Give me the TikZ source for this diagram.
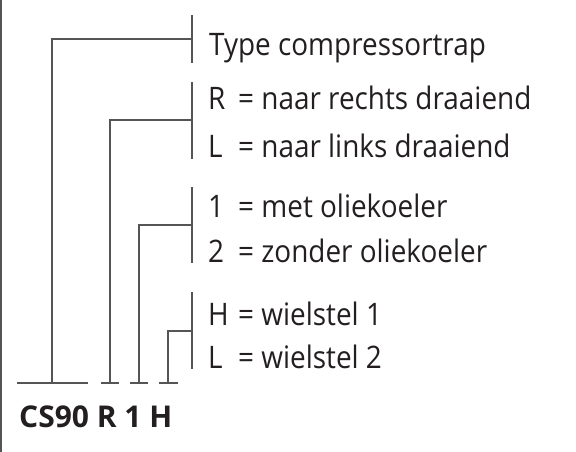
\documentclass[tikz,border=0pt]{standalone}
\usepackage{fontspec}
\setmainfont{Open Sans}[FakeStretch=0.9]
\newfontfamily\codefont{Open Sans}[BoldFont={Open Sans Bold}]
\definecolor{linegray}{HTML}{555555}
\definecolor{textdark}{HTML}{231F20}
\begin{document}
\begin{tikzpicture}[x=1pt,y=-1pt,
  conn/.style={draw=linegray,line width=1.3pt},
  lbl/.style={anchor=base west,inner sep=0pt,text=textdark,font=\fontsize{31}{36}\selectfont},
  code/.style={anchor=base west,inner sep=0pt,text=textdark,font=\codefont\fontsize{30}{36}\selectfont\bfseries}]
\useasboundingbox (0,0) rectangle (576,452);
\fill[white] (0,0) rectangle (576,452);
\newcommand{\keybox}[1]{\makebox[30pt][l]{#1}}
% frame line
\draw[linegray,line width=2pt] (1,0) -- (1,452);
% labels
\node[lbl] (t1) at (209,56) {Type compressortrap};
\node[lbl] (r) at (208,110) {\keybox{R}= naar rechts draaiend};
\node[lbl] (l) at (208,157) {\keybox{L}= naar links draaiend};
\node[lbl] (o1) at (208,217) {\keybox{1}= met oliekoeler};
\node[lbl] (o2) at (208,262) {\keybox{2}= zonder oliekoeler};
\node[lbl] (h) at (208,325) {\keybox{H}= wielstel 1};
\node[lbl] (w2) at (208,368) {\keybox{L}= wielstel 2};
\node[code] (cs) at (19,427) {CS90 R 1 H};
% bracket coordinates
\coordinate (a1) at (192,15); \coordinate (a2) at (192,63); \coordinate (am) at (192,39);
\coordinate (b1) at (192,82); \coordinate (b2) at (192,159); \coordinate (bm) at (192,120);
\coordinate (c1) at (192,187); \coordinate (c2) at (192,263); \coordinate (cm) at (192,225);
\coordinate (d1) at (192,292); \coordinate (d2) at (192,369); \coordinate (dm) at (192,331);
\coordinate (af) at (52,383); \coordinate (bf) at (110,383); \coordinate (cf) at (139,383); \coordinate (df) at (168,383);
\draw[conn] (a1) -- (a2);
\draw[conn] (am) -| (af);
\draw[conn] (b1) -- (b2);
\draw[conn] (bm) -| (bf);
\draw[conn] (c1) -- (c2);
\draw[conn] (cm) -| (cf);
\draw[conn] (d1) -- (d2);
\draw[conn] (dm) -| (df);
% base lines
\coordinate (e1) at (17,383); \coordinate (e2) at (88,383);
\coordinate (f1) at (101,383); \coordinate (f2) at (119,383);
\coordinate (g1) at (130,383); \coordinate (g2) at (148,383);
\coordinate (h1) at (159,383); \coordinate (h2) at (178,383);
\draw[conn] (e1) -- (e2);
\draw[conn] (f1) -- (f2);
\draw[conn] (g1) -- (g2);
\draw[conn] (h1) -- (h2);
\end{tikzpicture}
\end{document}
